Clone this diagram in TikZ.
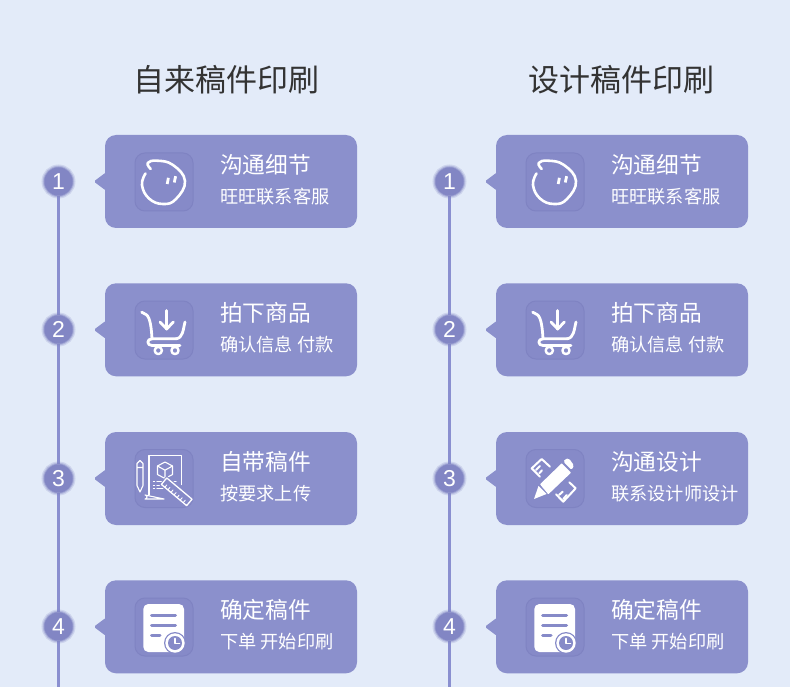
\documentclass[tikz,border=0pt]{standalone}
\usepackage{fontspec}
\setmainfont{Noto Sans CJK SC}
\newfontfamily\numfont{Liberation Sans}
\usetikzlibrary{backgrounds}

\definecolor{pagebg}{HTML}{E3EBF9}
\definecolor{cardfill}{HTML}{8B90CC}
\definecolor{iconfill}{HTML}{868AC8}
\definecolor{iconedge}{HTML}{7F83C2}
\definecolor{railcol}{HTML}{8A8FD0}
\definecolor{badgefill}{HTML}{8286C4}
\definecolor{headcol}{HTML}{333333}

\tikzset{
  card/.style={fill=cardfill,rounded corners=11pt,minimum width=252pt,minimum height=93pt,inner sep=0pt},
  iconbox/.style={fill=iconfill,draw=iconedge,line width=1pt,rounded corners=10pt,minimum size=58pt,inner sep=0pt},
  badge/.style={circle,fill=badgefill,text=white,minimum size=28pt,inner sep=0pt,
    font=\numfont\fontsize{23}{23}\selectfont,
    preaction={draw=badgefill,line width=6pt,opacity=.22},
    preaction={draw=badgefill,line width=3.5pt,opacity=.35},
    preaction={draw=badgefill,line width=1.5pt,opacity=.6}},
  headline/.style={text=headcol,font=\fontsize{31}{31}\selectfont,inner sep=0pt},
  cardtitle/.style={anchor=west,text=white,font=\fontsize{22.7}{23}\selectfont,inner sep=0pt},
  cardsub/.style={anchor=west,text=white,font=\fontsize{18.2}{19}\selectfont,inner sep=0pt},
  rail/.style={draw=railcol,line width=2.8pt},
  stroke/.style={draw=white,line width=#1,line cap=round,line join=round},
  % icons, drawn around the middle of the icon box
  tip/.pic={\fill[cardfill,rounded corners=1.5pt] (1,-9) -- (-11,0) -- (1,9) -- cycle;},
  chaticon/.pic={
    \draw[stroke=2.6pt] plot[smooth,tension=.75] coordinates {(-13.3,-13) (-16.3,-19) (-7,-21.3) (9,-17) (21,-1) (12,17) (-1,22) (-15,16.5) (-22,3) (-18.5,-8.5)};
    \draw[stroke=2.8pt,line cap=butt] (3.2,2) -- (4.4,-4.2);
    \draw[stroke=2.8pt,line cap=butt] (10.3,.5) -- (11.6,-5.8);
  },
  carticon/.pic={
    \draw[stroke=2.8pt] (-22.3,-17.8) -- (-18,-15.5) .. controls (-13.5,-13) and (-12.5,0) .. (-12,8.8);
    \draw[stroke=2.8pt] (12,8.8) -- (-12,8.8) .. controls (-17.5,8.8) and (-17.5,15.5) .. (-12,15.5) -- (16,15.5);
    \draw[stroke=2.8pt] (21,-8) .. controls (19,0) and (19,8) .. (12,8.8);
    \draw[stroke=2.8pt] (2.7,-19.5) -- (2.7,-1);
    \draw[stroke=2.8pt] (-4,-8) -- (2.7,-1) -- (9.3,-8);
    \draw[stroke=2.4pt] (-5.7,20.5) circle (3.6pt) (11,20.5) circle (3.6pt);
  },
  sheeticon/.pic={
    \draw[stroke=1.1pt] (-15,16.5) -- (-15,-22.7) -- (17.7,-22.7) -- (17.7,6);
    \draw[stroke=1.1pt] (0,20.5) -- (-19,20.5) arc (90:270:-2pt) -- cycle;
    \draw[stroke=1.1pt] (-27,-15) -- (-27,7) -- (-24,13.5) -- (-21,7) -- (-21,-15) -- (-24,-18) -- cycle (-27,-11) -- (-21,-11);
    \draw[stroke=1.1pt] (1,-16.5) -- (8.5,-12.5) -- (8.5,-4) -- (1,0) -- (-6.5,-4) -- (-6.5,-12.5) -- cycle;
    \draw[stroke=1.1pt] (-6.5,-12.5) -- (1,-8.3) -- (8.5,-12.5) (1,-8.3) -- (1,0);
    \draw[stroke=1.1pt] (-10.5,3.3) -- (-9.5,3.3) (-10.5,6.7) -- (-9.5,6.7) (-10.5,10) -- (-9.5,10);
    \draw[stroke=1.1pt] (-7,3.3) -- (12,3.3) (-7,6.7) -- (8,6.7) (-7,10) -- (4,10);
    \begin{scope}[shift={(12.7,13.3)},rotate=-40]
      \fill[iconfill] (-18,-6) rectangle (18,6);
      \draw[stroke=1.3pt] (-16.5,-4.2) rectangle (16.5,4.2);
      \draw[stroke=.9pt] (-12,4.2) -- (-12,1) (-8,4.2) -- (-8,1) (-4,4.2) -- (-4,1) (0,4.2) -- (0,1) (4,4.2) -- (4,1) (8,4.2) -- (8,1) (12,4.2) -- (12,1);
    \end{scope}
  },
  penicon/.pic={
    \fill[white] (-21,20.5) -- (-16.5,7.5) -- (-8.5,15.5) -- cycle;
    \fill[white,rounded corners=.6pt] (-15,5.8) -- (6.7,-15.2) -- (16,-5.8) -- (-6.7,15.8) -- cycle;
    \fill[white,rounded corners=1.5pt] (10,-19.5) -- (14,-20) -- (19,-13) -- (16.7,-8.5) -- (8.5,-16.5) -- cycle;
    \draw[stroke=2pt] (-5,-11.8) -- (-13.3,-19.5) -- (-23.3,-10.2) -- (-15,-1.8);
    \draw[stroke=2pt] (-19,-8.5) -- (-15,-12.5) (-15.7,-5.2) -- (-13,-8.2);
    \draw[stroke=2pt] (14.3,3.8) -- (20.7,9.8) -- (8.3,23.2) -- (1,15.8);
    \draw[stroke=2pt] (4,16.5) -- (7.7,13.2) (8.3,20.5) -- (11.7,16.5);
  },
  noteicon/.pic={
    \fill[white,rounded corners=5pt] (-20.7,-23) rectangle (20,25);
    \draw[draw=iconfill,line width=3pt,line cap=round] (-12.5,-12) -- (11.5,-12) (-12.5,-2) -- (11.5,-2) (-12.5,8.5) -- (-4,8.5);
    \fill[iconfill] (11,16) circle (11pt);
    \fill[white] (11,16) circle (9.7pt);
    \fill[iconfill] (11,16) circle (7pt);
    \draw[white,line width=1.6pt,line cap=round,line join=round] (11,11.5) -- (11,16.5) -- (15.5,16.5);
  },
}

\begin{document}
\begin{tikzpicture}[x=1pt,y=-1pt]
  \useasboundingbox (0,0) rectangle (790,687);

  \node[headline] (headA) at (226.5,80) {自来稿件印刷};
  \node[headline] (headB) at (621,80) {设计稿件印刷};

  % left column
  \node[card] (a1) at (231,181.5) {};
  \node[card] (a2) at (231,329.8) {};
  \node[card] (a3) at (231,478.5) {};
  \node[card] (a4) at (231,626.8) {};
  \pic at (a1.west) {tip};
  \pic at (a2.west) {tip};
  \pic at (a3.west) {tip};
  \pic at (a4.west) {tip};

  \node[badge] (na1) at (58.5,181.5) {1};
  \node[badge] (na2) at (58.5,329.5) {2};
  \node[badge] (na3) at (58.5,478.5) {3};
  \node[badge] (na4) at (58.5,626.5) {4};
  \coordinate (enda) at (59.3,687);

  \node[iconbox] (ia1) at (164,182) {};
  \node[iconbox] (ia2) at (164,330) {};
  \node[iconbox] (ia3) at (164,478.5) {};
  \node[iconbox] (ia4) at (164,627) {};
  \pic at (ia1) {chaticon};
  \pic at (ia2) {carticon};
  \pic at (ia3) {sheeticon};
  \pic at (ia4) {noteicon};

  \node[cardtitle] (ta1) at (220,165) {沟通细节};
  \node[cardsub]   (sa1) at (220,197) {旺旺联系客服};
  \node[cardtitle] (ta2) at (220,313) {拍下商品};
  \node[cardsub]   (sa2) at (220,345) {确认信息 付款};
  \node[cardtitle] (ta3) at (220,462) {自带稿件};
  \node[cardsub]   (sa3) at (220,494) {按要求上传};
  \node[cardtitle] (ta4) at (220,610) {确定稿件};
  \node[cardsub]   (sa4) at (220,642) {下单 开始印刷};

  % right column
  \node[card] (b1) at (622,181.5) {};
  \node[card] (b2) at (622,329.8) {};
  \node[card] (b3) at (622,478.5) {};
  \node[card] (b4) at (622,626.8) {};
  \pic at (b1.west) {tip};
  \pic at (b2.west) {tip};
  \pic at (b3.west) {tip};
  \pic at (b4.west) {tip};

  \node[badge] (nb1) at (449.5,181.5) {1};
  \node[badge] (nb2) at (449.5,329.5) {2};
  \node[badge] (nb3) at (449.5,478.5) {3};
  \node[badge] (nb4) at (449.5,626.5) {4};
  \coordinate (endb) at (450.3,687);

  \node[iconbox] (ib1) at (555,182) {};
  \node[iconbox] (ib2) at (555,330) {};
  \node[iconbox] (ib3) at (555,478.5) {};
  \node[iconbox] (ib4) at (555,627) {};
  \pic at (ib1) {chaticon};
  \pic at (ib2) {carticon};
  \pic at (ib3) {penicon};
  \pic at (ib4) {noteicon};

  \node[cardtitle] (tb1) at (611,165) {沟通细节};
  \node[cardsub]   (sb1) at (611,197) {旺旺联系客服};
  \node[cardtitle] (tb2) at (611,313) {拍下商品};
  \node[cardsub]   (sb2) at (611,345) {确认信息 付款};
  \node[cardtitle] (tb3) at (611,462) {沟通设计};
  \node[cardsub]   (sb3) at (611,494) {联系设计师设计};
  \node[cardtitle] (tb4) at (611,610) {确定稿件};
  \node[cardsub]   (sb4) at (611,642) {下单 开始印刷};

  \begin{scope}[on background layer]
    \fill[pagebg] (0,0) rectangle (790,687);
    \draw[rail] (na1) -- (na2);
    \draw[rail] (na2) -- (na3);
    \draw[rail] (na3) -- (na4);
    \draw[rail] (na4) -- (na4 |- enda);
    \draw[rail] (nb1) -- (nb2);
    \draw[rail] (nb2) -- (nb3);
    \draw[rail] (nb3) -- (nb4);
    \draw[rail] (nb4) -- (nb4 |- endb);
  \end{scope}
\end{tikzpicture}
\end{document}
